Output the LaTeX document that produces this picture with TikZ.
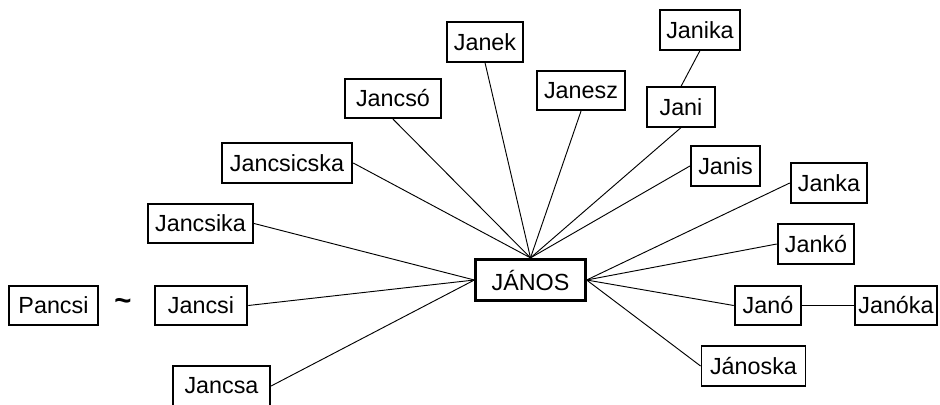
\documentclass[tikz,border=0pt]{standalone}
\usepackage{fontspec}
\setmainfont{Liberation Sans}

\begin{document}
\begin{tikzpicture}[x=0.75pt, y=-0.75pt,
	casella/.style={draw, line width=1.4pt, minimum height=29.5pt, inner sep=0pt, font=\fontsize{17.5}{20}\selectfont},
	ramo/.style={line width=0.7pt}]
	%		\draw [thin, help lines] (0,0) grid[step=50] (940,404);
	\useasboundingbox (0,0) rectangle (940,404);
	%%% Centro
	\node[casella, line width=2.2pt, minimum width=82pt, minimum height=31pt] (janos) at (530.5,280) {JÁNOS};
	%%% Sinistra
	\node[casella, minimum width=67pt] (pancsi) at (53.5,305.5) {Pancsi};
	\node[inner sep=0pt, font=\fontsize{22}{24}\selectfont\bfseries] (tilde) at (123,304) {\textasciitilde};
	\node[casella, minimum width=69.5pt] (jancsi) at (201,305.5) {Jancsi};
	\node[casella, minimum width=73pt] (jancsa) at (221.5,386) {Jancsa};
	\node[casella, minimum width=79pt] (jancsika) at (200.5,223.5) {Jancsika};
	%%% Alto
	\node[casella, minimum width=98pt] (jancsicska) at (287,163) {Jancsicska};
	\node[casella, minimum width=72.5pt] (jancso) at (393,98.5) {Jancsó};
	\node[casella, minimum width=57.5pt] (janek) at (485,42) {Janek};
	\node[casella, minimum width=66.5pt] (janesz) at (581,90.5) {Janesz};
	\node[casella, minimum width=60.5pt] (janika) at (700,30) {Janika};
	\node[casella, minimum width=51.5pt] (jani) at (681,107) {Jani};
	\node[casella, minimum width=52pt] (janis) at (725.5,166) {Janis};
	%%% Destra
	\node[casella, minimum width=57.5pt] (janka) at (829,183) {Janka};
	\node[casella, minimum width=57.5pt] (janko) at (816,244) {Jankó};
	\node[casella, minimum width=50pt] (jano) at (768,305.5) {Janó};
	\node[casella, minimum width=62pt] (janoka) at (896,305.5) {Janóka};
	\node[casella, minimum width=78pt] (janoska) at (753.5,366) {Jánoska};
	%%% Rami sinistra
	\draw[ramo] (jancsika.east) -- (janos.west);
	\draw[ramo] (jancsi.east) -- (janos.west);
	\draw[ramo] (jancsa.east) -- (janos.west);
	%%% Rami alto
	\draw[ramo] (jancsicska.east) -- (janos.north);
	\draw[ramo] (jancso.south) -- (janos.north);
	\draw[ramo] (janek.south) -- (janos.north);
	\draw[ramo] (janesz.south) -- (janos.north);
	\draw[ramo] (jani.south) -- (janos.north);
	\draw[ramo] (janis.west) -- (janos.north);
	\draw[ramo] (janika.south) -- (jani.north);
	%%% Rami destra
	\draw[ramo] (janka.west) -- (janos.east);
	\draw[ramo] (janko.west) -- (janos.east);
	\draw[ramo] (jano.west) -- (janos.east);
	\draw[ramo] (janoska.west) -- (janos.east);
	\draw[ramo] (jano.east) -- (janoka.west);
\end{tikzpicture}
\end{document}
